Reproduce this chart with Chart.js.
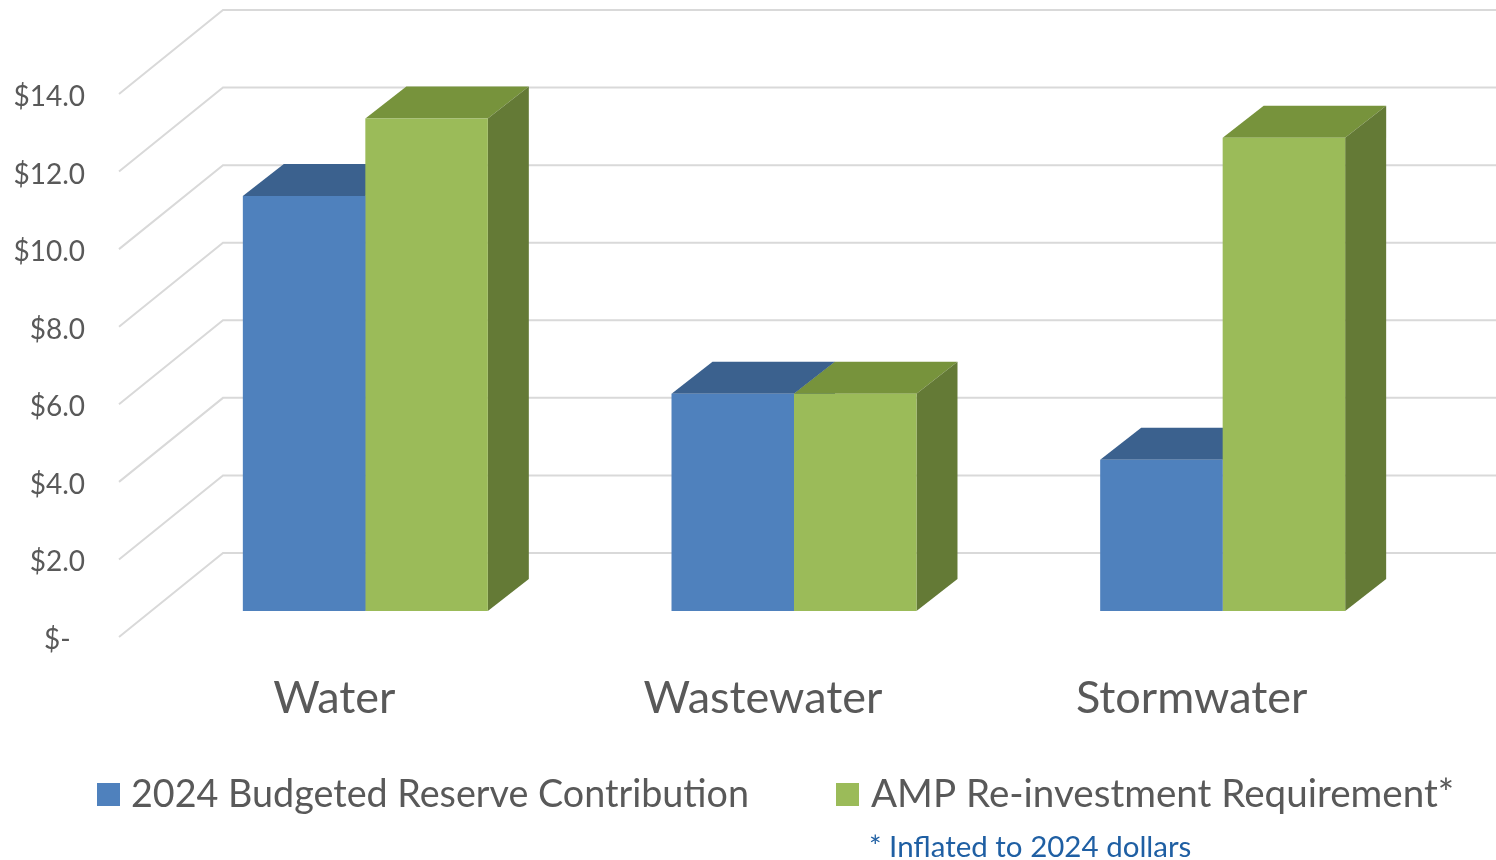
<!DOCTYPE html>
<html>
<head>
<meta charset="utf-8">
<script src="https://cdn.jsdelivr.net/npm/chart.js@4.4.1/dist/chart.umd.min.js"></script>
<style>
  html, body { margin: 0; padding: 0; background: #ffffff; }
  #wrap { width: 1496px; height: 860px; position: relative; overflow: hidden; }
</style>
</head>
<body>
<div id="wrap"><canvas id="c" width="1496" height="860"></canvas></div>
<script>
// ---- data ----
const categories = ['Water', 'Wastewater', 'Stormwater'];
const budgetedReserve = [10.7, 5.6, 3.9];
const ampReinvestment = [12.7, 5.6, 12.2];
const seriesNames = ['2024 Budgeted Reserve Contribution', 'AMP Re-investment Requirement*'];
const yTicks = [0, 2, 4, 6, 8, 10, 12, 14];
const footnoteText = '* Inflated to 2024 dollars';

// ---- styles / geometry ----
const FONT = 'Lato, "Open Sans", sans-serif';
const TEXT_GRAY = '#595959';
const GRID = '#d9d9d9';
const BAR_DEPTH = { dx: 41, dy: 32 };   // depth of each 3D column
const TO_BACK = { dx: 72, dy: 58 };     // bar-front plane -> back wall
const TO_FRONT = { dx: -32, dy: 26 };   // bar-front plane -> front edge of floor
const faces = [
  { front: '#4F81BD', top: '#3B618E', side: '#3A5E8A' },
  { front: '#9BBB59', top: '#77933C', side: '#647A36' }
];
const legendItems = [
  { box: 97, text: 131, size: 37.7 },
  { box: 836, text: 871, size: 38.6 }
];

const threeD = {
  id: 'threeD',
  beforeDatasetsDraw(chart) {
    const ctx = chart.ctx;
    const ys = chart.scales.y;
    const area = chart.chartArea;
    ctx.save();
    // walls / floor gridlines
    ctx.strokeStyle = GRID;
    ctx.lineWidth = 2;
    yTicks.forEach(v => {
      const yb = ys.getPixelForValue(v);
      ctx.beginPath();
      ctx.moveTo(area.left + TO_FRONT.dx, yb + TO_FRONT.dy);
      ctx.lineTo(area.left + TO_BACK.dx, yb - TO_BACK.dy);
      ctx.lineTo(chart.width, yb - TO_BACK.dy);
      ctx.stroke();
    });
    // top and side faces of columns
    chart.data.datasets.forEach((ds, di) => {
      const meta = chart.getDatasetMeta(di);
      meta.data.forEach(el => {
        const p = el.getProps(['x', 'y', 'base', 'width'], true);
        const x1 = p.x - p.width / 2, x2 = p.x + p.width / 2;
        const top = Math.min(p.y, p.base), base = Math.max(p.y, p.base);
        ctx.fillStyle = faces[di].top;
        ctx.beginPath();
        ctx.moveTo(x1, top);
        ctx.lineTo(x2, top);
        ctx.lineTo(x2 + BAR_DEPTH.dx, top - BAR_DEPTH.dy);
        ctx.lineTo(x1 + BAR_DEPTH.dx, top - BAR_DEPTH.dy);
        ctx.closePath();
        ctx.fill();
        ctx.fillStyle = faces[di].side;
        ctx.beginPath();
        ctx.moveTo(x2, top);
        ctx.lineTo(x2 + BAR_DEPTH.dx, top - BAR_DEPTH.dy);
        ctx.lineTo(x2 + BAR_DEPTH.dx, base - BAR_DEPTH.dy);
        ctx.lineTo(x2, base);
        ctx.closePath();
        ctx.fill();
      });
    });
    ctx.restore();
  },
  afterDraw(chart) {
    const ctx = chart.ctx;
    ctx.save();
    ctx.textBaseline = 'middle';
    ctx.textAlign = 'left';
    chart.data.datasets.forEach((ds, i) => {
      const it = legendItems[i];
      ctx.fillStyle = ds.backgroundColor;
      ctx.fillRect(it.box, 783, 23, 23);
      ctx.font = it.size + 'px ' + FONT;
      ctx.fillStyle = TEXT_GRAY;
      ctx.fillText(ds.label, it.text, 795);
    });
    ctx.font = '29.5px ' + FONT;
    ctx.fillStyle = '#1F5FA3';
    ctx.fillText(footnoteText, 869, 847);
    ctx.restore();
  }
};

new Chart(document.getElementById('c'), {
  type: 'bar',
  data: {
    labels: categories,
    datasets: [
      { label: seriesNames[0], data: budgetedReserve, backgroundColor: faces[0].front, borderWidth: 0 },
      { label: seriesNames[1], data: ampReinvestment, backgroundColor: faces[1].front, borderWidth: 0 }
    ]
  },
  options: {
    responsive: false,
    devicePixelRatio: 1,
    animation: false,
    layout: { padding: { top: 68, right: 59, left: 0, bottom: 0 } },
    datasets: { bar: { categoryPercentage: 0.5715, barPercentage: 1 } },
    plugins: { legend: { display: false }, tooltip: { enabled: false } },
    scales: {
      x: {
        grid: { display: false, drawTicks: false },
        border: { display: false },
        ticks: {
          color: TEXT_GRAY,
          font: { family: FONT, size: 45 },
          padding: 60,
          labelOffset: -31,
          maxRotation: 0,
          autoSkip: false
        },
        afterFit(scale) { scale.height = 249; }
      },
      y: {
        min: 0,
        max: 14,
        grid: { display: false, drawTicks: false },
        border: { display: false },
        afterBuildTicks(scale) { scale.ticks = yTicks.map(v => ({ value: v })); },
        ticks: {
          color: TEXT_GRAY,
          font: { family: FONT, size: 28 },
          padding: 66,
          labelOffset: 29,
          callback: v => (v === 0 ? '$-  ' : '$' + v.toFixed(1))
        },
        afterFit(scale) {
          scale.width = 151;
          scale.paddingTop = 0;
          scale.paddingBottom = 0;
        }
      }
    }
  },
  plugins: [threeD]
});
</script>
</body>
</html>
